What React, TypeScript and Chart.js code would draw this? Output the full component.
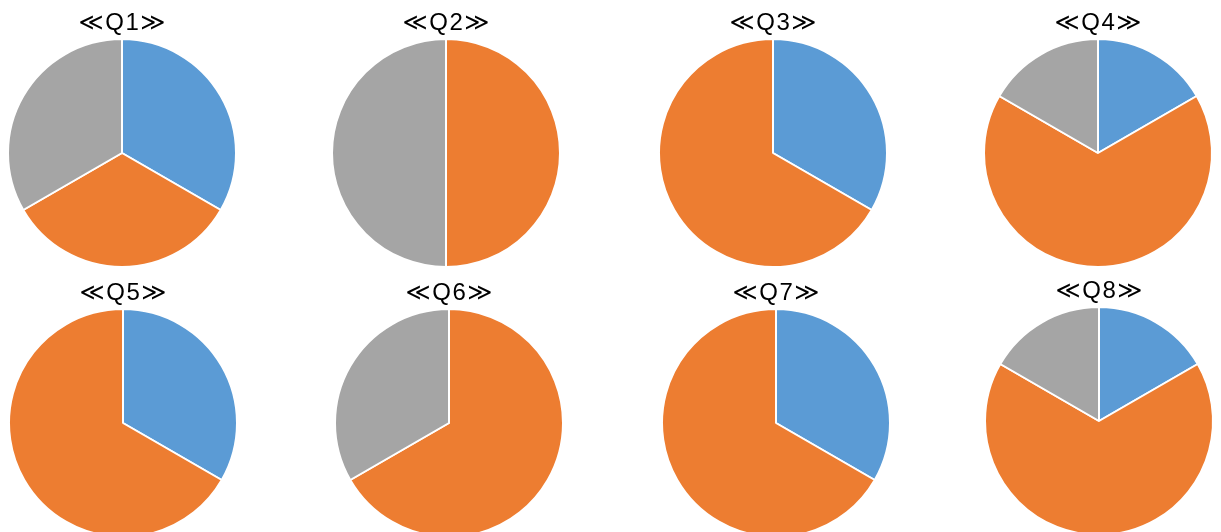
import React, { useEffect, useRef } from "react";
import { Chart, registerables } from "chart.js";

Chart.register(...registerables);

const categories = ["A", "B", "C"];
const titles = ["≪Q1≫", "≪Q2≫", "≪Q3≫", "≪Q4≫", "≪Q5≫", "≪Q6≫", "≪Q7≫", "≪Q8≫"];
const q1 = [1, 1, 1];
const q2 = [0, 1, 1];
const q3 = [1, 2, 0];
const q4 = [1, 4, 1];
const q5 = [1, 2, 0];
const q6 = [0, 2, 1];
const q7 = [1, 2, 0];
const q8 = [1, 4, 1];
const seriesList = [q1, q2, q3, q4, q5, q6, q7, q8];
const colors = ["#5B9BD5", "#ED7D31", "#A5A5A5"];

// pie centers (page coordinates)
const centersX = [122, 446, 772.5, 1097.5, 123, 448.5, 775.5, 1098.5];
const centersY = [153, 153, 153, 153, 423, 423, 423, 421];

const R = 115;
const TITLE_H = 38;
const W = 300;
const TITLE_SPACING = 1.5;

const spacingPlugin = {
  id: "titleSpacing",
  beforeDraw(chart: any) {
    const ctx = chart.ctx as any;
    ctx.save();
    ctx.letterSpacing = TITLE_SPACING + "px";
    ctx.translate(TITLE_SPACING / 2, 0);
  },
  beforeDatasetsDraw(chart: any) {
    chart.ctx.restore();
  },
};

function PieBox({ idx }: { idx: number }) {
  const ref = useRef<HTMLCanvasElement | null>(null);
  useEffect(() => {
    if (!ref.current) return;
    const chart = new Chart(ref.current, {
      type: "pie",
      data: {
        labels: categories,
        datasets: [
          {
            data: seriesList[idx],
            backgroundColor: colors,
            borderColor: "#ffffff",
            borderWidth: 2,
            hoverOffset: 0,
            offset: 0,
          },
        ],
      },
      options: {
        animation: false,
        responsive: false,
        maintainAspectRatio: false,
        layout: { padding: 0 },
        plugins: {
          legend: { display: false },
          tooltip: { enabled: false },
          title: {
            display: true,
            text: titles[idx],
            color: "#000000",
            font: {
              family: '"Liberation Sans", "DejaVu Sans", sans-serif',
              size: 24,
              weight: "normal",
              lineHeight: 1.2,
            },
            padding: { top: 8.6, bottom: 0.6 },
          },
        },
      },
      plugins: [spacingPlugin],
    });
    return () => chart.destroy();
  }, [idx]);
  const left = centersX[idx] - W / 2;
  const top = centersY[idx] - R - TITLE_H;
  return (
    <div
      style={{
        position: "absolute",
        left,
        top,
        width: W,
        height: TITLE_H + 2 * R,
      }}
    >
      <canvas ref={ref} width={W} height={TITLE_H + 2 * R} style={{ display: "block" }} />
    </div>
  );
}

export default function App() {
  return (
    <div
      style={{
        position: "fixed",
        left: 0,
        top: 0,
        width: 1221,
        height: 532,
        overflow: "hidden",
        background: "#ffffff",
      }}
    >
      {seriesList.map((_, i) => (
        <PieBox key={i} idx={i} />
      ))}
    </div>
  );
}
